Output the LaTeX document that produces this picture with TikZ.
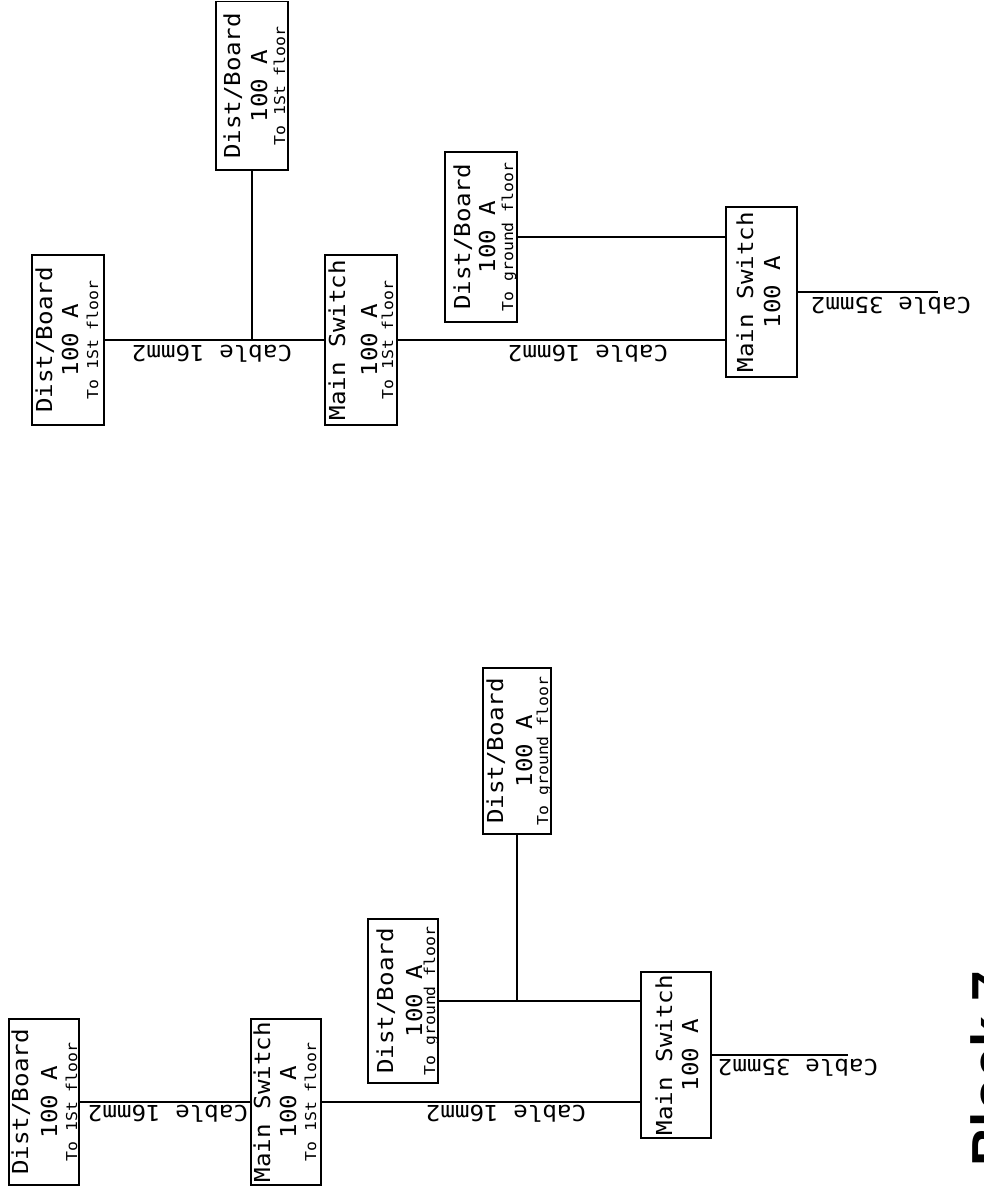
\documentclass[tikz,border=0pt]{standalone}
\usepackage{fontspec}
\newfontfamily\cad[FakeStretch=1.1]{DejaVu Sans Mono}
\newfontfamily\blk{Liberation Sans}
\tikzset{
  box/.style={draw, line width=1.3pt, inner sep=0pt, rectangle},
  wire/.style={line width=1.3pt},
  big/.style={font=\cad\fontsize{22}{22}\selectfont, rotate=90, anchor=base, inner sep=0pt},
  small/.style={font=\cad\fontsize{15}{15}\selectfont, rotate=90, anchor=base, inner sep=0pt},
  gsmall/.style={font=\cad\fontsize{15}{15}\selectfont, rotate=90, anchor=base, inner sep=0pt},
  cable/.style={font=\cad\fontsize{22}{22}\selectfont, rotate=180, anchor=base, inner sep=0pt},
}
\newcommand\mkbox[5]{\node[box, minimum width={(#4-#2)*1pt}, minimum height={(#5-#3)*1pt}] (#1) at ({(#2+#4)/2},{(#3+#5)/2}) {};}
\begin{document}
\begin{tikzpicture}[x=1pt,y=-1pt]
\useasboundingbox (0,0) rectangle (984,1195);
% ---------- lower diagram ----------
\mkbox{DBa}{9}{1019}{79}{1185}
\node[big] (DBa1) at (28,1102) {Dist/Board};
\node[big] (DBa2) at (57,1102) {100 A};
\node[small] (DBa3) at (77,1102) {To 1St floor};

\mkbox{MSa}{251}{1019}{321}{1185}
\node[big] (MSa1) at (270,1102) {Main Switch};
\node[big] (MSa2) at (296,1102) {100 A};
\node[small] (MSa3) at (316,1102) {To 1St floor};

\mkbox{DBb}{368}{919}{438}{1083}
\node[big] (DBb1) at (393,1001) {Dist/Board};
\node[big] (DBb2) at (422,1001) {100 A};
\node[gsmall] (DBb3) at (435,1001) {To ground floor};

\mkbox{DBc}{483}{668}{551}{834}
\node[big] (DBc1) at (503,751) {Dist/Board};
\node[big] (DBc2) at (532,751) {100 A};
\node[gsmall] (DBc3) at (548,751) {To ground floor};

\mkbox{MSb}{641}{972}{711}{1138}
\node[big] (MSb1) at (672,1055) {Main Switch};
\node[big] (MSb2) at (698,1055) {100 A};

\coordinate (Ea) at (848,1055);
\draw[wire] (DBa.east) -- (MSa.west);
\draw[wire] (MSa.east) -- (MSa.east -| MSb.west);
\draw[wire] (DBb.east) -- (DBb.east -| MSb.west);
\draw[wire] (DBc.south) -- (DBc.south |- DBb.east);
\draw[wire] (MSb.east) -- (Ea);

\node[cable] (Ca) at (168,1105) {Cable 16mm2};
\node[cable] (Cb) at (506,1105) {Cable 16mm2};
\node[cable] (Cc) at (798,1059) {Cable 35mm2};

% ---------- upper diagram ----------
\mkbox{DBd}{32}{255}{104}{425}
\node[big] (DBd1) at (52,340) {Dist/Board};
\node[big] (DBd2) at (78,340) {100 A};
\node[small] (DBd3) at (98,340) {To 1St floor};

\mkbox{MSc}{325}{255}{397}{425}
\node[big] (MSc1) at (345,340) {Main Switch};
\node[big] (MSc2) at (377,340) {100 A};
\node[small] (MSc3) at (393,340) {To 1St floor};

\mkbox{DBe}{216}{1.5}{288}{170}
\node[big] (DBe1) at (240,86) {Dist/Board};
\node[big] (DBe2) at (267,86) {100 A};
\node[small] (DBe3) at (285,86) {To 1St floor};

\mkbox{DBf}{445}{152}{517}{322}
\node[big] (DBf1) at (470,237) {Dist/Board};
\node[big] (DBf2) at (495,237) {100 A};
\node[gsmall] (DBf3) at (513,237) {To ground floor};

\mkbox{MSd}{726}{207}{797}{377}
\node[big] (MSd1) at (753,292) {Main Switch};
\node[big] (MSd2) at (780,292) {100 A};

\coordinate (Eb) at (938,292);
\draw[wire] (DBd.east) -- (MSc.west);
\draw[wire] (DBe.south) -- (DBe.south |- DBd.east);
\draw[wire] (MSc.east) -- (MSc.east -| MSd.west);
\draw[wire] (DBf.east) -- (DBf.east -| MSd.west);
\draw[wire] (MSd.east) -- (Eb);

\node[cable] (Cd) at (212,345) {Cable 16mm2};
\node[cable] (Ce) at (588,345) {Cable 16mm2};
\node[cable] (Cf) at (891,297) {Cable 35mm2};

% ---------- title ----------
\node[font=\blk\bfseries\fontsize{55}{55}\selectfont, rotate=90, anchor=base west, inner sep=0pt] (title) at (1010,1167) {Block 7};
\end{tikzpicture}
\end{document}
